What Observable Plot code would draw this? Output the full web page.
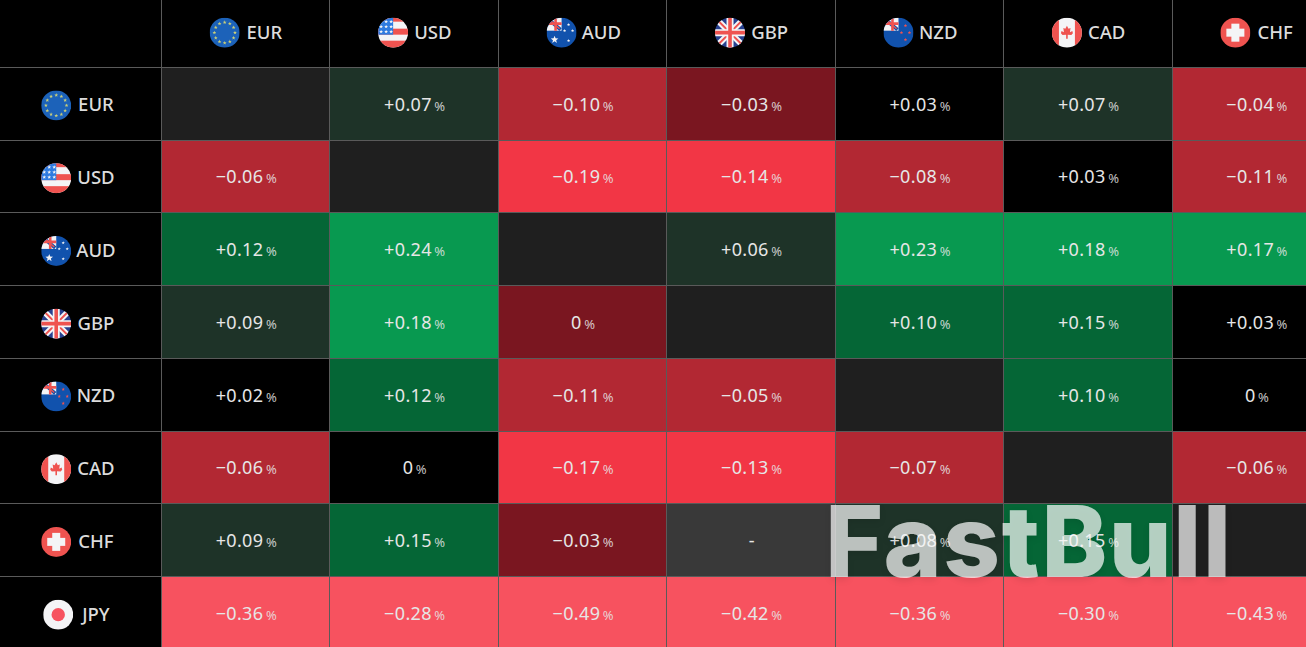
<!DOCTYPE html>
<html><head><meta charset="utf-8">
<script src="https://cdn.jsdelivr.net/npm/d3@7"></script>
<script src="https://cdn.jsdelivr.net/npm/@observablehq/plot@0.6"></script>
<style>html,body{margin:0;padding:0;background:#000;overflow:hidden}svg{display:block}</style>
</head><body><div id="chart"></div>
<script>
const columns = ["EUR","USD","AUD","GBP","NZD","CAD","CHF"];
const rows = ["EUR","USD","AUD","GBP","NZD","CAD","CHF","JPY"];
// -0.004 displays as "0": the cell is shaded as a small fall in the picture
const eurRow = [null, 0.07, -0.10, -0.03, 0.03, 0.07, -0.04];
const usdRow = [-0.06, null, -0.19, -0.14, -0.08, 0.03, -0.11];
const audRow = [0.12, 0.24, null, 0.06, 0.23, 0.18, 0.17];
const gbpRow = [0.09, 0.18, -0.004, null, 0.10, 0.15, 0.03];
const nzdRow = [0.02, 0.12, -0.11, -0.05, null, 0.10, 0];
const cadRow = [-0.06, 0, -0.17, -0.13, -0.07, null, -0.06];
const chfRow = [0.09, 0.15, -0.03, "-", 0.08, 0.15, null];
const jpyRow = [-0.36, -0.28, -0.49, -0.42, -0.36, -0.30, -0.43];
const matrix = [eurRow, usdRow, audRow, gbpRow, nzdRow, cadRow, chfRow, jpyRow];
const thresholds = [-0.2, -0.12, -0.035, 0, 0.05, 0.095, 0.16];
const shades = ["#f7525f","#f23645","#b22833","#7a1620","#000000","#1e3328","#056636","#089950"];

const R="#ef5350", W="#f4f4f6", B="#1152ad";
function wrap(inner){
  const s=`<svg xmlns="http://www.w3.org/2000/svg" viewBox="0 0 30 30"><defs><clipPath id="c"><circle cx="15" cy="15" r="15"/></clipPath></defs><g clip-path="url(#c)">${inner}</g></svg>`;
  return "data:image/svg+xml;charset=utf-8,"+encodeURIComponent(s);
}
const star=(x,y,r,f)=>{let p=[];for(let i=0;i<10;i++){const a=-Math.PI/2+i*Math.PI/5,q=i%2?r*0.42:r;p.push((x+q*Math.cos(a)).toFixed(2)+","+(y+q*Math.sin(a)).toFixed(2));}return `<polygon points="${p.join(" ")}" fill="${f}"/>`;};
const jack=`<rect width="30" height="30" fill="#27408f"/><path d="M0 0L30 30M30 0L0 30" stroke="${W}" stroke-width="6"/><path d="M0 0L30 30M30 0L0 30" stroke="${R}" stroke-width="2"/><path d="M15 0V30M0 15H30" stroke="${W}" stroke-width="7"/><path d="M15 0V30M0 15H30" stroke="${R}" stroke-width="3.6"/>`;
const corner=`<rect x="0" y="0" width="15" height="13" fill="${W}"/><path d="M1 1L14 12" stroke="${B}" stroke-width="3.5"/><path d="M2 1L13 11" stroke="${R}" stroke-width="1.4"/><path d="M9 0V13M0 6H15" stroke="${R}" stroke-width="2.6"/>`;
function eur(){let g=`<rect width="30" height="30" fill="#1c62b9"/>`;for(let i=0;i<12;i++){const a=i*Math.PI/6;g+=star(15+10.3*Math.cos(a),15+10.3*Math.sin(a),2,"#c9cf7a");}return g;}
function usd(){let g=`<rect width="30" height="30" fill="${W}"/><rect width="30" height="4" fill="${R}"/><rect y="11" width="30" height="6" fill="${R}"/><rect y="23" width="30" height="7" fill="${R}"/><rect width="15" height="17" fill="#2f7be0"/>`;for(const y of [4,9,14])for(const x of [3,8,13])g+=star(x,y,2,W);return g;}
function aud(){let g=`<rect width="30" height="30" fill="${B}"/>`+corner;g+=star(8,22,4,W);for(const [x,y] of [[22,7],[18,13],[26,13],[22,23]])g+=star(x,y,1.7,W);return g;}
function nzd(){let g=`<rect width="30" height="30" fill="${B}"/>`+corner;for(const [x,y] of [[22,8],[18,15],[26,15],[22,22]])g+=star(x,y,1.8,R);return g;}
function cad(){return `<rect width="30" height="30" fill="${W}"/><rect width="7" height="30" fill="${R}"/><rect x="23" width="7" height="30" fill="${R}"/><polygon points="15,8 16.6,11 18.6,10.4 18,14.6 20.4,13.4 21,15.6 19.4,17.4 15.8,17 15.8,21 14.2,21 14.2,17 10.6,17.4 9,15.6 9.6,13.4 12,14.6 11.4,10.4 13.4,11" fill="${R}"/>`;}
function chf(){return `<rect width="30" height="30" fill="${R}"/><rect x="11" y="6" width="8" height="18" fill="${W}"/><rect x="6" y="11" width="18" height="8" fill="${W}"/>`;}
function jpy(){return `<rect width="30" height="30" fill="${W}"/><circle cx="15" cy="15" r="6.7" fill="#f7525f"/>`;}
const flagArt = {EUR:eur(),USD:usd(),AUD:aud(),GBP:jack,NZD:nzd(),CAD:cad(),CHF:chf(),JPY:jpy()};
const flagOf = c => wrap(flagArt[c]);

const cells = rows.flatMap((r,i)=>columns.map((c,j)=>({row:r,col:c,v:matrix[i][j]})));
const numeric = cells.filter(d=>typeof d.v==="number");
const blank = cells.filter(d=>d.v===null);
const dashed = cells.filter(d=>d.v==="-");
const fmt = v => { const a=Math.abs(v); if(a<0.005) return "0%"; return (v>0?"+":"\u2212")+a.toFixed(2)+"%"; };
const headTop = columns.map(c=>({row:"",col:c}));
const headLeft = rows.map(r=>({row:r,col:""}));
const corners = [{row:"",col:""}];
const frame = [...corners,...headTop,...headLeft];
const LINE="#5a5a5a", FONT="'Noto Sans',sans-serif", INK="#e6e6e6";
const cellOpts = {x:"col",y:"row",stroke:LINE,strokeWidth:1,shapeRendering:"crispEdges"};

const plot = Plot.plot({
  width:1306,height:647,margin:0,
  style:{background:"#000",fontFamily:FONT},
  x:{type:"band",domain:["",...columns],range:[-7,1340.6],round:false,padding:0,axis:null},
  y:{type:"band",domain:["",...rows],range:[-5.4,649.3],round:false,padding:0,axis:null},
  color:{type:"threshold",domain:thresholds,range:shades},
  marks:[
    Plot.cell(frame,{...cellOpts,fill:"#000"}),
    Plot.cell(blank,{...cellOpts,fill:"#1f1f1f"}),
    Plot.cell(dashed,{...cellOpts,fill:"#393939"}),
    Plot.cell(numeric,{...cellOpts,fill:"v"}),
    Plot.image(headTop,{x:"col",y:"row",src:d=>flagOf(d.col),width:30,height:30,dx:-21.5,dy:1.2}),
    Plot.image(headLeft.filter(d=>d.row!=="JPY"),{x:"col",y:"row",src:d=>flagOf(d.row),width:30,height:30,dx:-21.5,dy:1.2}),
    Plot.image(headLeft.filter(d=>d.row==="JPY"),{x:"col",y:"row",src:d=>flagOf(d.row),width:30,height:30,dx:-19.5,dy:1.2}),
    Plot.text(headTop,{x:"col",y:"row",text:"col",dx:18.2,dy:1.2,fill:"#dcdcdc",fontSize:18.5,fontWeight:500}),
    Plot.text(headLeft,{x:"col",y:"row",text:"row",dx:18.2,dy:1.2,fill:"#dcdcdc",fontSize:18.5,fontWeight:500}),
    Plot.text(numeric,{x:"col",y:"row",text:d=>fmt(d.v),dy:0.6,fill:INK,fontSize:18,className:"val"}),
    Plot.text(dashed,{x:"col",y:"row",text:"v",dy:0.6,fill:INK,fontSize:18}),
    Plot.text([{row:"CHF",col:"CAD"}],{x:"col",y:"row",text:()=>"FastBull",dx:-59.5,dy:5,fill:"#fff",fillOpacity:0.7,fontSize:99,fontWeight:800,fontFamily:"Inter",className:"wm"})
  ]
});
d3.select(plot).selectAll(".val text").each(function(){
  const t=this.textContent; if(!t.endsWith("%")) return;
  const el=d3.select(this); el.text(null);
  el.append("tspan").attr("letter-spacing",0.35).text(t.slice(0,-1));
  el.append("tspan").attr("dx",2.5).attr("font-size",13).attr("fill-opacity",0.85).text("%");
});
d3.select(plot).selectAll(".wm text").attr("letter-spacing",1.6).style("filter","drop-shadow(0 3px 3px rgba(0,0,0,.12))");
document.getElementById("chart").append(plot);
</script></body></html>
